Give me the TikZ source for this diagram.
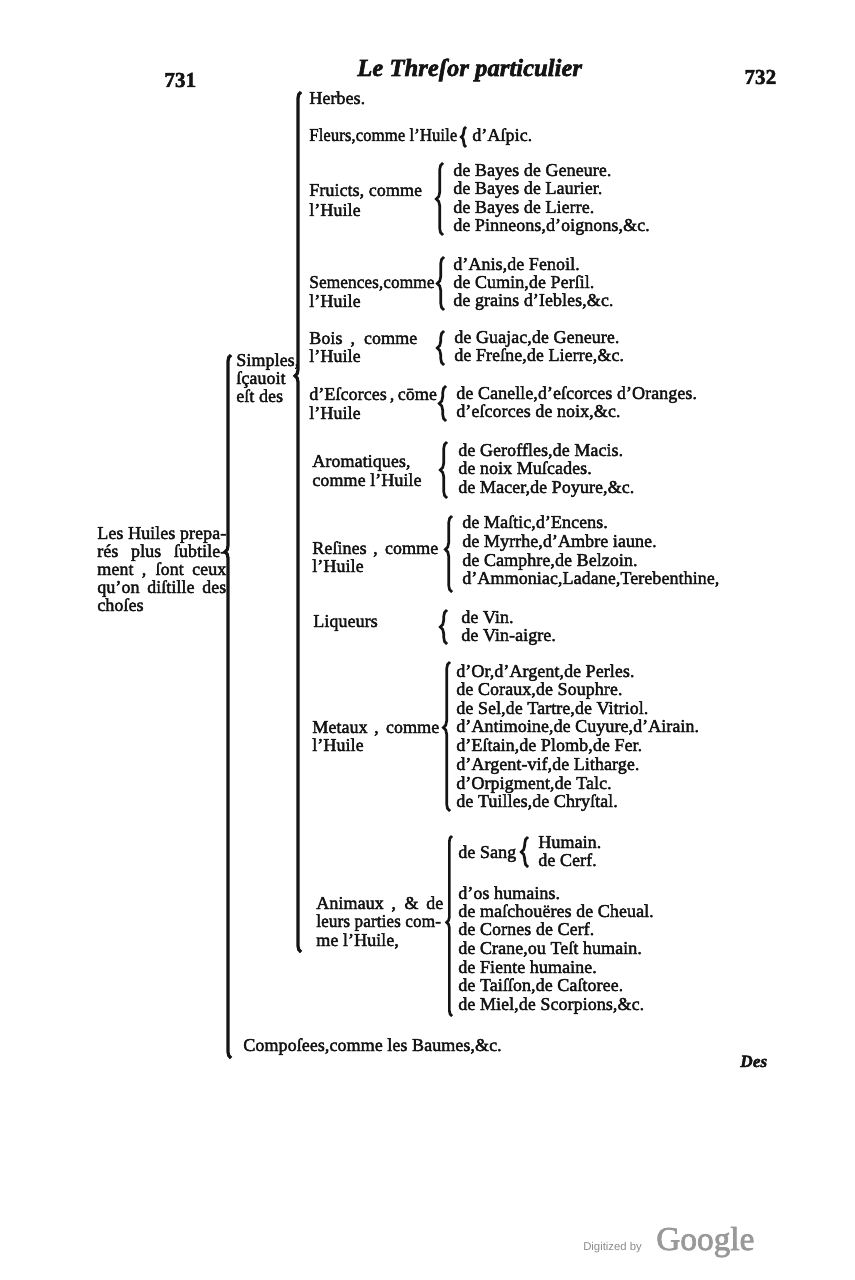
\documentclass[tikz,border=0pt]{standalone}
\usepackage{graphicx}
\usepackage{fontspec}
\newfontfamily\pf{Liberation Serif}[FakeBold=2.2]
\newfontfamily\gsans{Liberation Sans}
\usetikzlibrary{decorations.pathreplacing}
\newlength\pxu
\setlength{\pxu}{0.75pt}
\newcommand\jb[2]{\makebox[#1\pxu][s]{#2}}
\newcommand\narrow[2]{\scalebox{#1}[1]{#2}}
\definecolor{ink}{gray}{0.08}
\tikzset{
  t/.style={anchor=base west, inner sep=0pt, text=ink, font=\pf\fontsize{13.6}{14}\selectfont},
  bracebig/.style={draw=ink, line width=2.4pt, decorate, decoration={brace, amplitude=4.5pt, aspect=#1}},
  bracebig/.default=0.5,
  bracesm/.style={draw=ink, line width=2pt, decorate, decoration={brace, amplitude=5pt, aspect=#1}},
  bracesm/.default=0.5,
}
\begin{document}
\begin{tikzpicture}[x=0.75pt,y=-0.75pt]
\fill[white] (0,0) rectangle (854,1280);
\useasboundingbox (0,0) rectangle (854,1280);

% header
\node[t, font=\pf\bfseries\fontsize{16}{16}\selectfont] (p731) at (164,87) {731};
\node[t, font=\pf\bfseries\itshape\fontsize{18.5}{18.5}\selectfont] (title) at (357,76) {Le Threſor particulier};
\node[t, font=\pf\bfseries\fontsize{16}{16}\selectfont] (p732) at (744,84) {732};

% root
\node[t] (r1) at (97,539) {\jb{129}{Les Huiles prepa-}};
\node[t] (r2) at (97,557) {\jb{129}{rés plus ſubtile-}};
\node[t] (r3) at (97,575) {\jb{129}{ment , ſont ceux}};
\node[t] (r4) at (97,593) {\jb{129}{qu’on diſtille des}};
\node[t] (r5) at (97,611) {choſes};

\coordinate (mbT) at (231,355);
\coordinate (mbB) at (231,1058);
\draw[bracebig=0.72] (mbB) -- (mbT);

% Simples
\node[t] (s1) at (236,366) {Simples,};
\node[t] (s2) at (236,384) {ſçauoit};
\node[t] (s3) at (236,402) {eſt des};
\node[t] (comp) at (243,1051) {Compoſees,comme les Baumes,\&c.};

\coordinate (sbT) at (301,92);
\coordinate (sbB) at (301,952);
\draw[bracebig=0.67] (sbB) -- (sbT);

% Herbes, Fleurs
\node[t] (herbes) at (309,104) {Herbes.};
\node[t] (fleurs) at (309,141) {\narrow{0.93}{Fleurs,comme l’Huile}};
\coordinate (flT) at (466,127);
\coordinate (flB) at (466,147);
\draw[bracesm, decoration={amplitude=3.5pt}] (flB) -- (flT);
\node[t] (aspic) at (472,141) {d’Aſpic.};

% Fruicts
\node[t] (fr1) at (309,196) {Fruicts, comme};
\node[t] (fr2) at (309,216) {l’Huile};
\coordinate (frT) at (443,163);
\coordinate (frB) at (443,235);
\draw[bracesm] (frB) -- (frT);
\node[t] (fra) at (453,176) {de Bayes de Geneure.};
\node[t] (frb) at (453,194) {de Bayes de Laurier.};
\node[t] (frc) at (453,213) {de Bayes de Lierre.};
\node[t] (frd) at (453,231) {de Pinneons,d’oignons,\&c.};

% Semences
\node[t] (se1) at (309,288) {\narrow{0.96}{Semences,comme}};
\node[t] (se2) at (309,307) {l’Huile};
\coordinate (seT) at (444,257);
\coordinate (seB) at (444,310);
\draw[bracesm] (seB) -- (seT);
\node[t] (sea) at (453,270) {d’Anis,de Fenoil.};
\node[t] (seb) at (453,288) {de Cumin,de Perſil.};
\node[t] (sec) at (453,306) {de grains d’Iebles,\&c.};

% Bois
\node[t] (bo1) at (309,344) {\jb{108}{Bois , comme}};
\node[t] (bo2) at (309,362) {l’Huile};
\coordinate (boT) at (444,331);
\coordinate (boB) at (444,365);
\draw[bracesm] (boB) -- (boT);
\node[t] (boa) at (454,343) {de Guajac,de Geneure.};
\node[t] (bob) at (454,361) {de Freſne,de Lierre,\&c.};

% Escorces
\node[t] (es1) at (309,400) {\jb{127}{d’Eſcorces , cōme}};
\node[t] (es2) at (309,419) {l’Huile};
\coordinate (esT) at (446,386);
\coordinate (esB) at (446,421);
\draw[bracesm] (esB) -- (esT);
\node[t] (esa) at (456,399) {de Canelle,d’eſcorces d’Oranges.};
\node[t] (esb) at (456,417) {d’eſcorces de noix,\&c.};

% Aromatiques
\node[t] (ar1) at (312,467) {Aromatiques,};
\node[t] (ar2) at (312,486) {comme l’Huile};
\coordinate (arT) at (447,442);
\coordinate (arB) at (447,498);
\draw[bracesm] (arB) -- (arT);
\node[t] (ara) at (458,456) {de Geroffles,de Macis.};
\node[t] (arb) at (458,474) {de noix Muſcades.};
\node[t] (arc) at (458,493) {de Macer,de Poyure,\&c.};

% Resines
\node[t] (re1) at (312,554) {\jb{126}{Reſines , comme}};
\node[t] (re2) at (312,572) {l’Huile};
\coordinate (reT) at (452,516);
\coordinate (reB) at (452,592);
\draw[bracesm=0.56] (reB) -- (reT);
\node[t] (rea) at (462,528) {de Maſtic,d’Encens.};
\node[t] (reb) at (462,547) {de Myrrhe,d’Ambre iaune.};
\node[t] (rec) at (462,566) {de Camphre,de Belzoin.};
\node[t] (red) at (462,584) {d’Ammoniac,Ladane,Terebenthine,};

% Liqueurs
\node[t] (li1) at (313,627) {Liqueurs};
\coordinate (liT) at (447,610);
\coordinate (liB) at (447,644);
\draw[bracesm] (liB) -- (liT);
\node[t] (lia) at (461,623) {de Vin.};
\node[t] (lib) at (461,641) {de Vin-aigre.};

% Metaux
\node[t] (me1) at (312,733) {\jb{127}{Metaux , comme}};
\node[t] (me2) at (312,751) {l’Huile};
\coordinate (meT) at (450,662);
\coordinate (meB) at (450,811);
\draw[bracesm=0.56] (meB) -- (meT);
\node[t] (mea) at (456,677) {d’Or,d’Argent,de Perles.};
\node[t] (meb) at (456,695) {de Coraux,de Souphre.};
\node[t] (mec) at (456,714) {de Sel,de Tartre,de Vitriol.};
\node[t] (med) at (456,732) {d’Antimoine,de Cuyure,d’Airain.};
\node[t] (mee) at (456,751) {d’Eſtain,de Plomb,de Fer.};
\node[t] (mef) at (456,770) {d’Argent-vif,de Litharge.};
\node[t] (meg) at (456,789) {d’Orpigment,de Talc.};
\node[t] (meh) at (456,807) {de Tuilles,de Chryſtal.};

% Animaux
\node[t] (an1) at (316,909) {\jb{127}{Animaux , \& de}};
\node[t] (an2) at (316,927) {\narrow{0.96}{leurs parties com-}};
\node[t] (an3) at (316,946) {me l’Huile,};
\coordinate (anT) at (452,836);
\coordinate (anB) at (452,1016);
\draw[bracesm=0.52, decoration={amplitude=4pt}] (anB) -- (anT);
\node[t] (sang) at (458,858) {de Sang};
\coordinate (sgT) at (528,837);
\coordinate (sgB) at (528,867);
\draw[bracesm] (sgB) -- (sgT);
\node[t] (sga) at (538,848) {Humain.};
\node[t] (sgb) at (538,866) {de Cerf.};
\node[t] (ana) at (458,899) {d’os humains.};
\node[t] (anb) at (458,917) {de maſchouëres de Cheual.};
\node[t] (anc) at (458,935) {de Cornes de Cerf.};
\node[t] (and) at (458,954) {de Crane,ou Teſt humain.};
\node[t] (ane) at (458,973) {de Fiente humaine.};
\node[t] (anf) at (458,991) {de Taiſſon,de Caſtoree.};
\node[t] (ang) at (458,1010) {de Miel,de Scorpions,\&c.};

% catchword
\node[t, font=\pf\bfseries\itshape\fontsize{13}{13}\selectfont] (des) at (740,1067) {Des};

% digitized
\node[anchor=base west, inner sep=0pt, text=black!45, font=\gsans\fontsize{8.5}{9}\selectfont] (dig) at (583,1250) {Digitized by};
\node[anchor=base west, inner sep=0pt, text=black!40, font=\pf\fontsize{25}{25}\selectfont] (goog) at (656,1250) {Google};
\end{tikzpicture}
\end{document}
